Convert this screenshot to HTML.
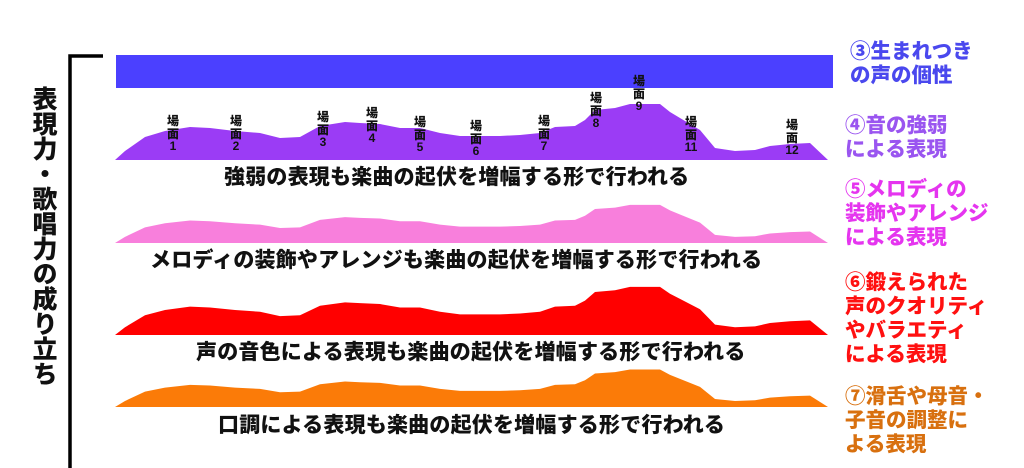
<!DOCTYPE html>
<html><head><meta charset="utf-8"><style>
html,body{margin:0;padding:0;background:#fff;}
body{width:1024px;height:468px;position:relative;overflow:hidden;font-family:"Liberation Sans","Noto Sans CJK JP",sans-serif;font-weight:900;}
.t{position:absolute;white-space:nowrap;font-weight:900;}
.cap{font-size:21px;color:#111;letter-spacing:0.2px;}
.r{font-size:20.5px;line-height:24px;}
.lab{position:absolute;font-size:12px;line-height:12.5px;text-align:center;width:24px;color:#111;font-weight:900;}
.lab span{display:block;}
</style></head><body>
<svg width="1024" height="468" style="position:absolute;left:0;top:0">
<defs>
<polygon id="m" points="115,160 125,151 145,137 165,131 190,127 210,128 235,131 260,133 280,138 300,137 320,126 345,122 360,123 380,124 400,128 420,128 440,133 460,136 480,136 500,136 520,135 540,133 555,127 575,126 585,120 595,110 615,108 630,104 660,104 670,112 680,118 700,130 715,148 735,151 755,150 770,146 790,144 810,143 828,160"/>
</defs>
<path d="M103,56 H70 V468" fill="none" stroke="#000" stroke-width="3.5"/>
<rect x="116" y="55" width="717" height="33" fill="#4b40ff"/>
<use href="#m" fill="#9b3cf5"/>
<g transform="translate(0,243) scale(1,0.68) translate(0,-160)"><use href="#m" fill="#f87fdc"/></g>
<g transform="translate(0,335) scale(1,0.86) translate(0,-160)"><use href="#m" fill="#ff0000"/></g>
<g transform="translate(0,407) scale(1,0.67) translate(0,-160)"><use href="#m" fill="#fb7b08"/></g>
</svg>
<div class="t" style="left:31px;top:86px;width:26px;font-size:25px;line-height:28px;writing-mode:vertical-rl;color:#111;">表現力・歌唱力の成り立ち</div>

<div class="lab" style="left:161px;top:115px"><span>場</span><span>面</span><span>1</span></div>
<div class="lab" style="left:224px;top:115px"><span>場</span><span>面</span><span>2</span></div>
<div class="lab" style="left:311px;top:111px"><span>場</span><span>面</span><span>3</span></div>
<div class="lab" style="left:360px;top:107px"><span>場</span><span>面</span><span>4</span></div>
<div class="lab" style="left:408px;top:116px"><span>場</span><span>面</span><span>5</span></div>
<div class="lab" style="left:464px;top:120px"><span>場</span><span>面</span><span>6</span></div>
<div class="lab" style="left:532px;top:115px"><span>場</span><span>面</span><span>7</span></div>
<div class="lab" style="left:584px;top:92px"><span>場</span><span>面</span><span>8</span></div>
<div class="lab" style="left:627px;top:75px"><span>場</span><span>面</span><span>9</span></div>
<div class="lab" style="left:679px;top:116px"><span>場</span><span>面</span><span>11</span></div>
<div class="lab" style="left:780px;top:119px"><span>場</span><span>面</span><span>12</span></div>

<div class="t cap" style="left:224px;top:161px">強弱の表現も楽曲の起伏を増幅する形で行われる</div>
<div class="t cap" style="left:150px;top:244px">メロディの装飾やアレンジも楽曲の起伏を増幅する形で行われる</div>
<div class="t cap" style="left:196px;top:336px">声の音色による表現も楽曲の起伏を増幅する形で行われる</div>
<div class="t cap" style="left:218px;top:409px">口調による表現も楽曲の起伏を増幅する形で行われる</div>

<div class="t r" style="left:850px;top:40px;color:#4a48ee">③生まれつき<br>の声の個性</div>
<div class="t r" style="left:845px;top:114px;color:#9a55f0">④音の強弱<br>による表現</div>
<div class="t r" style="left:845px;top:178px;color:#e535ef">⑤メロディの<br>装飾やアレンジ<br>による表現</div>
<div class="t r" style="left:845px;top:271px;color:#ff1010">⑥鍛えられた<br>声のクオリティ<br>やバラエティ<br>による表現</div>
<div class="t r" style="left:845px;top:385px;color:#d8700f">⑦滑舌や母音・<br>子音の調整に<br>よる表現</div>
</body></html>
